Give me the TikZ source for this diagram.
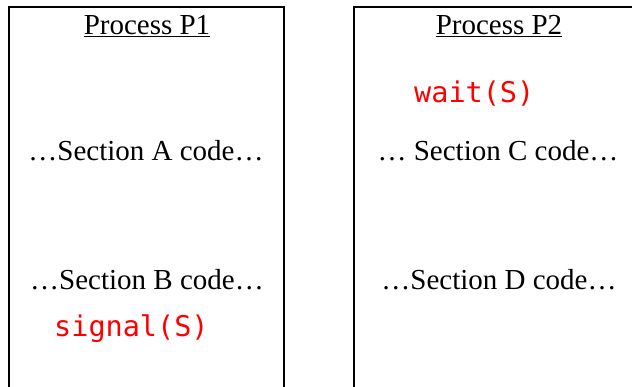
\documentclass[tikz,border=0pt]{standalone}
\usepackage{fontspec}
\setmainfont{Liberation Serif}
\setmonofont{DejaVu Sans Mono}
\usetikzlibrary{positioning}

\begin{document}
\begin{tikzpicture}
  [x=1pt,y=-1pt,
   frame/.style={draw=black,line width=2pt},
   sectext/.style={inner sep=0pt,anchor=base,
                   font=\fontsize{29}{34}\selectfont},
   codetext/.style={inner sep=0pt,anchor=base west,text=red,
                    font=\fontsize{28.5}{34}\selectfont\ttfamily}]
  \useasboundingbox (0,0) rectangle (632,387);
  % the two process boxes, open at the bottom
  \draw[frame] (9,400) -- (9,7) -- (284,7) -- (284,400);
  \draw[frame] (354,400) -- (354,7) -- (650,7);
  % process P1
  \node (p1title) at (147,35) [sectext] {\underline{Process P1}};
  \node (secA) at (146,161) [sectext] {…Section A code…};
  \node (secB) at (147,290) [sectext] {…Section B code…};
  \node (signal) at (54,337) [codetext] {signal(S)};
  % process P2
  \node (p2title) at (499,35) [sectext] {\underline{Process P2}};
  \node (wait) at (414,103) [codetext] {wait(S)};
  \node (secC) at (498,161) [sectext] {… Section C code…};
  \node (secD) at (499,290) [sectext] {…Section D code…};
\end{tikzpicture}
\end{document}
